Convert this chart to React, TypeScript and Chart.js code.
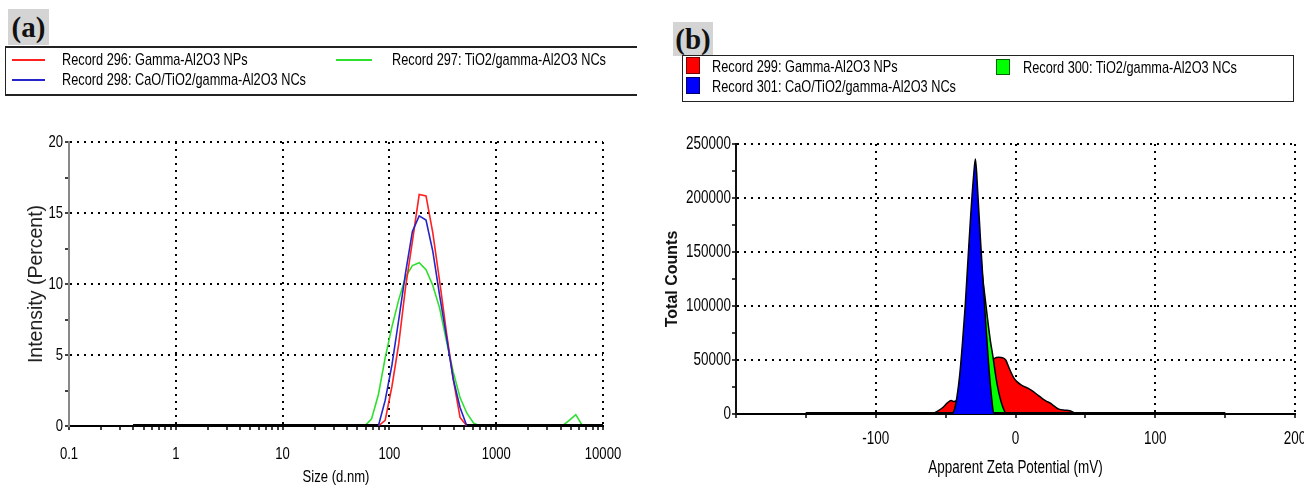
import React, { useEffect, useRef } from 'react';
import { Chart, registerables } from 'chart.js';

Chart.register(...registerables);

// ---------- Panel (a): size distribution by intensity ----------
const sizeRed = [0.4, 78.82, 91.28, 105.7, 122.4, 141.8, 164.2, 190.1, 220.2, 255.0, 295.3, 342.0, 396.1, 458.7, 531.2, 10000];
const intensityRed = [0, 0, 0.4, 2.8, 5.8, 9.8, 13.0, 16.3, 16.2, 13.6, 10.2, 6.6, 3.3, 0.6, 0, 0];

const sizeBlue = [0.4, 78.82, 91.28, 105.7, 122.4, 141.8, 164.2, 190.1, 220.2, 255.0, 295.3, 342.0, 396.1, 458.7, 531.2, 10000];
const intensityBlue = [0, 0, 1.8, 4.3, 7.5, 10.8, 13.7, 14.8, 14.5, 12.3, 9.2, 6.3, 3.3, 1.3, 0, 0];

const sizeGreen = [0.4, 58.77, 68.06, 78.82, 91.28, 105.7, 122.4, 141.8, 164.2, 190.1, 220.2, 255.0, 295.3, 342.0, 396.1, 458.7, 531.2, 615.1, 712.4, 4145, 4801, 5560, 6439, 10000];
const intensityGreen = [0, 0, 0.5, 2.2, 4.8, 7.0, 8.9, 10.5, 11.3, 11.5, 11.0, 9.9, 8.3, 6.0, 3.8, 2.0, 0.9, 0.2, 0, 0, 0.38, 0.8, 0, 0];

const sizeDecades = [0.1, 1, 10, 100, 1000, 10000];
const sizeDecadeLabels = ['0.1', '1', '10', '100', '1000', '10000'];
const intensityMajorTicks = [0, 5, 10, 15, 20];

// ---------- Panel (b): zeta potential distribution ----------
const zetaRed = [-150, -60, -56, -52, -49, -46, -44, -40, -35, -30, -25, -20, -17, -15, -12, -9, -7, -5, -3, -1, 1, 4, 7, 10, 13, 16, 19, 22, 25, 28, 31, 35, 39, 42, 44, 150];
const countsRed = [0, 0, 2500, 6000, 10000, 12500, 11500, 15000, 22000, 30000, 38000, 45000, 49000, 51500, 52500, 52000, 50000, 44000, 38000, 33000, 30000, 27000, 25000, 23000, 20500, 17500, 14500, 12000, 10000, 7000, 4500, 3500, 3000, 1000, 0, 0];

const zetaGreen = [-150, -40, -36, -32, -28, -26, -24, -22, -20, -18, -16, -14, -12, -10, -8, -6.5, 150];
const countsGreen = [0, 0, 50000, 120000, 180000, 165000, 133000, 110000, 88000, 68000, 52000, 34000, 20000, 10000, 3000, 0, 0];

const zetaBlue = [-150, -46, -44, -42, -40, -38, -36, -34, -32, -30, -28.7, -27, -25, -23, -21, -19, -17, -15.5, 150];
const countsBlue = [0, 0, 3000, 15000, 35000, 65000, 100000, 143000, 185000, 220000, 236000, 205000, 160000, 118000, 78000, 42000, 14000, 0, 0];

const zetaMajorTicks = [-200, -100, 0, 100, 200];
const zetaTickLabels = ['', '-100', '0', '100', '200'];
const countsMajorTicks = [0, 50000, 100000, 150000, 200000, 250000];

// "Liberation Sans Narrow" is not installed: text in this family falls back to
// Liberation Sans and is condensed horizontally (canvas patch / CSS transform).
const NARROW = "'Liberation Sans Narrow', 'Liberation Sans', Arial, sans-serif";
const SANS = "'Liberation Sans', Arial, sans-serif";
const CONDENSE = 0.77;
const LEGEND_CONDENSE = 0.75;
const TRANSPARENT = 'rgba(0,0,0,0)';

const toPoints = (xs: number[], ys: number[]) => xs.map((x, i) => ({ x, y: ys[i] }));

const isZeroSeg = (c: any) => c.p0.parsed.y === 0 && c.p1.parsed.y === 0;

const isDecade = (v: number) => Math.abs(Math.log10(v) - Math.round(Math.log10(v))) < 1e-9;

function withMidpoints(major: number[]): number[] {
  const out: number[] = [];
  for (let i = 0; i < major.length; i++) {
    out.push(major[i]);
    if (i < major.length - 1) out.push((major[i] + major[i + 1]) / 2);
  }
  return out;
}

function logTicks(decades: number[]): number[] {
  const out: number[] = [];
  for (let i = 0; i < decades.length; i++) {
    out.push(decades[i]);
    if (i < decades.length - 1) for (let k = 2; k <= 9; k++) out.push(decades[i] * k);
  }
  return out;
}

const condensedTextPlugin = {
  id: 'condensedText',
  beforeDraw(chart: any) {
    const ctx = chart.ctx as any;
    if (ctx.__condensed) return;
    ctx.__condensed = true;
    const orig = ctx.fillText.bind(ctx);
    ctx.fillText = (text: string, x: number, y: number, maxWidth?: number) => {
      if (String(ctx.font).includes('Narrow')) {
        ctx.save();
        ctx.translate(x, y);
        ctx.scale(CONDENSE, 1);
        orig(text, 0, 0);
        ctx.restore();
      } else if (maxWidth !== undefined) {
        orig(text, x, y, maxWidth);
      } else {
        orig(text, x, y);
      }
    };
  },
};

function makeChartA(canvas: HTMLCanvasElement) {
  const xTicks = logTicks(sizeDecades);
  const yTicks = withMidpoints(intensityMajorTicks);
  const line = (label: string, xs: number[], ys: number[], color: string) => ({
    label,
    data: toPoints(xs, ys),
    borderColor: color,
    borderWidth: 1.6,
    pointRadius: 0,
    tension: 0,
    fill: false,
    segment: {
      borderColor: (c: any) => (isZeroSeg(c) ? '#000' : undefined),
      borderWidth: (c: any) => (isZeroSeg(c) ? 4 : undefined),
    },
  });
  return new Chart(canvas, {
    type: 'line',
    data: {
      datasets: [
        line('Record 298: CaO/TiO2/gamma-Al2O3 NCs', sizeBlue, intensityBlue, '#2424c8'),
        line('Record 296: Gamma-Al2O3 NPs', sizeRed, intensityRed, '#ff2020'),
        line('Record 297: TiO2/gamma-Al2O3 NCs', sizeGreen, intensityGreen, '#2ee02e'),
      ],
    },
    plugins: [condensedTextPlugin],
    options: {
      responsive: false,
      maintainAspectRatio: false,
      animation: false,
      layout: { padding: { top: 142, right: 47, left: 0, bottom: 0 } },
      plugins: { legend: { display: false }, tooltip: { enabled: false } },
      scales: {
        x: {
          type: 'logarithmic',
          min: 0.1,
          max: 10000,
          afterBuildTicks: (s: any) => {
            s.ticks = xTicks.map((v) => ({ value: v }));
          },
          afterFit: (s: any) => {
            s.height = 65;
            s.paddingLeft = 0;
            s.paddingRight = 0;
          },
          ticks: {
            autoSkip: false,
            maxRotation: 0,
            minRotation: 0,
            padding: 14,
            color: '#000',
            font: { family: NARROW, size: 17 },
            callback: (v: any) => {
              const i = sizeDecades.findIndex((d) => Math.abs(d - v) < 1e-9 * d);
              return i >= 0 ? sizeDecadeLabels[i] : '';
            },
          },
          grid: {
            color: (ctx: any) => {
              const v = ctx.tick?.value;
              return v !== undefined && isDecade(v) && v > 0.1 ? '#000' : TRANSPARENT;
            },
            lineWidth: 2,
            tickColor: '#000',
            tickLength: 4,
            tickWidth: 1.5,
          },
          border: { color: '#000', width: 2, dash: [2, 5] },
          title: {
            display: true,
            text: 'Size (d.nm)',
            color: '#000',
            font: { family: NARROW, size: 17 },
            padding: { top: 0, bottom: 3 },
          },
        },
        y: {
          type: 'linear',
          min: 0,
          max: 20,
          afterBuildTicks: (s: any) => {
            s.ticks = yTicks.map((v) => ({ value: v }));
          },
          afterFit: (s: any) => {
            s.width = 69;
            s.paddingTop = 0;
            s.paddingBottom = 0;
          },
          ticks: {
            padding: 2,
            color: '#000',
            font: { family: NARROW, size: 17 },
            callback: (v: any) => (intensityMajorTicks.includes(v) ? String(v) : ''),
          },
          grid: {
            color: (ctx: any) => {
              const v = ctx.tick?.value;
              return intensityMajorTicks.includes(v) && v !== 0 ? '#000' : TRANSPARENT;
            },
            lineWidth: 2,
            tickColor: '#000',
            tickLength: 4,
            tickWidth: 1.5,
          },
          border: { color: '#888', width: 2, dash: [2, 5] },
          title: {
            display: true,
            text: 'Intensity (Percent)',
            color: '#222',
            font: { family: SANS, size: 19.5 },
            padding: { top: 25, bottom: 0 },
          },
        },
      },
    },
  } as any);
}

function makeChartB(canvas: HTMLCanvasElement) {
  const xTicks = withMidpoints(zetaMajorTicks);
  const yTicks = withMidpoints(countsMajorTicks);
  const area = (label: string, xs: number[], ys: number[], color: string) => ({
    label,
    data: toPoints(xs, ys),
    borderColor: '#000',
    backgroundColor: color,
    borderWidth: 1.5,
    pointRadius: 0,
    cubicInterpolationMode: 'monotone',
    fill: 'origin',
    segment: {
      borderWidth: (c: any) => (isZeroSeg(c) ? 4 : undefined),
    },
  });
  return new Chart(canvas, {
    type: 'line',
    data: {
      datasets: [
        area('Record 301: CaO/TiO2/gamma-Al2O3 NCs', zetaBlue, countsBlue, '#0000ff'),
        area('Record 300: TiO2/gamma-Al2O3 NCs', zetaGreen, countsGreen, '#00ff00'),
        area('Record 299: Gamma-Al2O3 NPs', zetaRed, countsRed, '#ff0000'),
      ],
    },
    plugins: [condensedTextPlugin],
    options: {
      responsive: false,
      maintainAspectRatio: false,
      animation: false,
      layout: { padding: { top: 144, right: 9, left: 0, bottom: 0 } },
      plugins: { legend: { display: false }, tooltip: { enabled: false } },
      scales: {
        x: {
          type: 'linear',
          min: -200,
          max: 200,
          afterBuildTicks: (s: any) => {
            s.ticks = xTicks.map((v) => ({ value: v }));
          },
          afterFit: (s: any) => {
            s.height = 77;
            s.paddingLeft = 0;
            s.paddingRight = 0;
          },
          ticks: {
            autoSkip: false,
            maxRotation: 0,
            minRotation: 0,
            padding: 11,
            color: '#000',
            font: { family: NARROW, size: 17.5 },
            callback: (v: any) => {
              const i = zetaMajorTicks.indexOf(v);
              return i >= 0 ? zetaTickLabels[i] : '';
            },
          },
          grid: {
            color: (ctx: any) => {
              const v = ctx.tick?.value;
              return zetaMajorTicks.includes(v) && v !== -200 ? '#000' : TRANSPARENT;
            },
            lineWidth: 2,
            tickColor: '#000',
            tickLength: 4,
            tickWidth: 1.5,
          },
          border: { color: '#000', width: 2, dash: [2, 5] },
          title: {
            display: true,
            text: 'Apparent Zeta Potential (mV)',
            color: '#000',
            font: { family: NARROW, size: 17.5 },
            padding: { top: 0, bottom: 12 },
          },
        },
        y: {
          type: 'linear',
          min: 0,
          max: 250000,
          afterBuildTicks: (s: any) => {
            s.ticks = yTicks.map((v) => ({ value: v }));
          },
          afterFit: (s: any) => {
            s.width = 86;
            s.paddingTop = 0;
            s.paddingBottom = 0;
          },
          ticks: {
            padding: 1,
            color: '#000',
            font: { family: NARROW, size: 17.5 },
            callback: (v: any) => (countsMajorTicks.includes(v) ? String(v) : ''),
          },
          grid: {
            color: (ctx: any) => {
              const v = ctx.tick?.value;
              return countsMajorTicks.includes(v) && v !== 0 ? '#000' : TRANSPARENT;
            },
            lineWidth: 2,
            tickColor: '#000',
            tickLength: 4,
            tickWidth: 1.5,
          },
          border: { color: '#111', width: 2, dash: [2, 5] },
          title: {
            display: true,
            text: 'Total Counts',
            color: '#111',
            font: { family: SANS, size: 16, weight: 'bold' },
            padding: { top: 13, bottom: 0 },
          },
        },
      },
    },
  } as any);
}

const abs = (left: number, top: number, extra: React.CSSProperties = {}): React.CSSProperties => ({
  position: 'absolute',
  left,
  top,
  ...extra,
});

const legendText: React.CSSProperties = {
  fontFamily: NARROW,
  fontSize: 17,
  lineHeight: '18px',
  color: '#000',
  whiteSpace: 'nowrap',
  transform: `scaleX(${LEGEND_CONDENSE})`,
  transformOrigin: '0 50%',
};

const panelLabel: React.CSSProperties = {
  background: '#d4d4d4',
  fontFamily: "'Liberation Serif', 'Times New Roman', serif",
  fontWeight: 'bold',
  fontSize: 29,
  color: '#111',
  textAlign: 'center',
  boxSizing: 'border-box',
};

export default function App() {
  const refA = useRef<HTMLCanvasElement | null>(null);
  const refB = useRef<HTMLCanvasElement | null>(null);

  useEffect(() => {
    const a = refA.current ? makeChartA(refA.current) : null;
    const b = refB.current ? makeChartB(refB.current) : null;
    return () => {
      a?.destroy();
      b?.destroy();
    };
  }, []);

  return (
    <div style={{ position: 'absolute', left: 0, top: 0, width: 1304, height: 491, background: '#fff', overflow: 'hidden' }}>
      <canvas ref={refA} width={650} height={491} style={abs(0, 0, { width: 650, height: 491 })} />
      <canvas ref={refB} width={654} height={491} style={abs(650, 0, { width: 654, height: 491 })} />

      {/* Panel (a) label and legend */}
      <div style={abs(8, 9, { ...panelLabel, width: 41, height: 36, lineHeight: '36px' })}>(a)</div>
      <div
        style={abs(5, 46, {
          width: 632,
          height: 50,
          boxSizing: 'border-box',
          borderTop: '2px solid #222',
          borderBottom: '2px solid #222',
          borderLeft: '1px solid #222',
        })}
      />
      <div style={abs(12, 59, { width: 33, height: 2, background: '#ff2020' })} />
      <div style={abs(62, 51, legendText)}>Record 296: Gamma-Al2O3 NPs</div>
      <div style={abs(336, 59, { width: 36, height: 2, background: '#2ee02e' })} />
      <div style={abs(392, 51, legendText)}>Record 297: TiO2/gamma-Al2O3 NCs</div>
      <div style={abs(12, 79, { width: 33, height: 2, background: '#2424c8' })} />
      <div style={abs(62, 71, legendText)}>Record 298: CaO/TiO2/gamma-Al2O3 NCs</div>

      {/* Panel (b) label and legend */}
      <div style={abs(673, 22, { ...panelLabel, width: 40, height: 34, lineHeight: '34px' })}>(b)</div>
      <div
        style={abs(682, 55, {
          width: 612,
          height: 47,
          boxSizing: 'border-box',
          border: '1.5px solid #222',
        })}
      />
      <div style={abs(686, 57, { width: 14, height: 17, background: '#ff0000', boxSizing: 'border-box', border: '1px solid #700' })} />
      <div style={abs(712, 58, legendText)}>Record 299: Gamma-Al2O3 NPs</div>
      <div style={abs(996, 59, { width: 14, height: 16, background: '#00ff00', boxSizing: 'border-box', border: '1px solid #060' })} />
      <div style={abs(1023, 59, legendText)}>Record 300: TiO2/gamma-Al2O3 NCs</div>
      <div style={abs(686, 77, { width: 14, height: 17, background: '#0000ff', boxSizing: 'border-box', border: '1px solid #006' })} />
      <div style={abs(712, 78, legendText)}>Record 301: CaO/TiO2/gamma-Al2O3 NCs</div>
    </div>
  );
}
